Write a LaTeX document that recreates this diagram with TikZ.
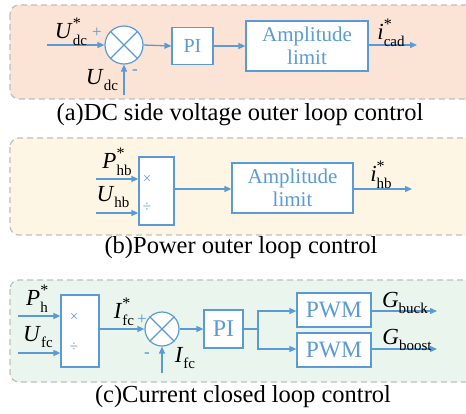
\documentclass[tikz,border=0pt]{standalone}
\usepackage{fontspec}
\setmainfont{Liberation Serif}
\usetikzlibrary{arrows.meta}
\definecolor{lblue}{HTML}{5B9BD5}
\definecolor{bgA}{HTML}{FBE3D6}
\definecolor{bgB}{HTML}{FEF6E4}
\definecolor{bgC}{HTML}{EAF5EE}
\definecolor{dgray}{HTML}{BFBFBF}
\newcommand{\vlab}[3]{\textit{#1}\makebox[0pt][l]{\raisebox{0.45em}{\fontsize{16}{16}\selectfont #3}}\raisebox{-0.3em}{\fontsize{15}{15}\selectfont #2}}
\tikzset{
  panel/.style={draw=dgray, dashed, dash pattern=on 6pt off 4pt, line width=1.2pt, rounded corners=9pt},
  blk/.style={draw=lblue, line width=1.2pt, fill=white, text=lblue, inner sep=0pt, align=center},
  sumc/.style={circle, draw=lblue, line width=1.2pt, fill=white, minimum size=#1, inner sep=0pt},
  sig/.style={draw=lblue, line width=1.3pt, -{Triangle[length=7pt,width=6pt]}},
  wire/.style={draw=lblue, line width=1.3pt},
  lab/.style={font=\fontsize{23}{23}\selectfont, inner sep=0pt},
  captxt/.style={font=\fontsize{24.5}{24.5}\selectfont, inner sep=0pt},
  sgn/.style={text=lblue, font=\fontsize{17}{17}\selectfont, inner sep=0pt},
  ops/.style={text=lblue, font=\fontsize{15}{15}\selectfont, inner sep=0pt}
}
\begin{document}
\begin{tikzpicture}[x=1pt,y=-1pt]
\useasboundingbox (0,0) rectangle (466,413);
\begin{scope}
\clip (0,0) rectangle (466,413);
% ---------- panel (a)
\path[panel, fill=bgA] (10,5) rectangle (490,99);
\node[sumc=38pt] (sa) at (124,45) {};
\draw[lblue, line width=1.1pt] (sa.north west) -- (sa.south east) (sa.north east) -- (sa.south west);
\node[blk, minimum width=41pt, minimum height=37pt, font=\fontsize{20}{20}\selectfont] (pa) at (192.5,46) {PI};
\node[blk, minimum width=122pt, minimum height=50pt, font=\fontsize{21}{23}\selectfont] (aa) at (307,46) {Amplitude\\limit};
\coordinate (ina) at (47,45);
\coordinate (bota) at (124,95);
\coordinate (outa) at (417,45);
\path[sig] (ina) -- (sa.west);
\path[sig] (bota) -- (sa.south);
\path[sig] (sa.east) -- (pa.west);
\path[sig] (pa.east) -- (aa.west |- pa.east);
\path[sig] (aa.east |- outa) -- (outa);
\node[lab] (la1) at (71,32) {\vlab{U}{dc}{*}};
\node[sgn] (pa1) at (97,33) {+};
\node[lab] (la2) at (102,80) {\vlab{U}{dc}{}};
\node[sgn] (ma1) at (135,72) {\textbf{-}};
\node[lab] (la3) at (391,33) {\vlab{i}{cad}{*}};
% ---------- panel (b)
\path[panel, fill=bgB] (10,138) rectangle (490,235);
\node[blk, minimum width=35pt, minimum height=68pt] (mb) at (156.5,191) {};
\node[ops] (xb) at (147,179) {×};
\node[ops] (db) at (147,207) {÷};
\node[blk, minimum width=121pt, minimum height=50pt, font=\fontsize{21}{23}\selectfont] (ab) at (292.5,188) {Amplitude\\limit};
\coordinate (inb1) at (96,179);
\coordinate (inb2) at (96,213);
\coordinate (outb) at (412,189);
\path[sig] (inb1) -- (mb.west |- inb1);
\path[sig] (inb2) -- (mb.west |- inb2);
\path[sig] (mb.east |- outb) -- (ab.west |- outb);
\path[sig] (ab.east |- outb) -- (outb);
\node[lab] (lb1) at (117,162) {\vlab{P}{hb}{*}};
\node[lab] (lb2) at (113,197) {\vlab{U}{hb}{}};
\node[lab] (lb3) at (381,175) {\vlab{i}{hb}{*}};
% ---------- panel (c)
\path[panel, fill=bgC] (10,280) rectangle (490,382);
\node[blk, minimum width=38pt, minimum height=72pt] (mc) at (80,331) {};
\node[ops] (xc) at (74,317) {×};
\node[ops] (dc) at (74,347) {÷};
\node[sumc=34pt] (sc) at (162,329) {};
\draw[lblue, line width=1.1pt] (sc.north west) -- (sc.south east) (sc.north east) -- (sc.south west);
\node[blk, minimum width=39pt, minimum height=38pt, font=\fontsize{24}{24}\selectfont] (pc) at (223.5,329) {PI};
\node[blk, minimum width=74pt, minimum height=34pt, font=\fontsize{23.5}{24}\selectfont] (pw1) at (334,310) {PWM};
\node[blk, minimum width=74pt, minimum height=34pt, font=\fontsize{23.5}{24}\selectfont] (pw2) at (334,350) {PWM};
\coordinate (inc1) at (18,316);
\coordinate (inc2) at (18,353);
\coordinate (botc) at (162,373);
\coordinate (br) at (258,329);
\coordinate (outc1) at (437,311);
\coordinate (outc2) at (437,349);
\path[sig] (inc1) -- (mc.west |- inc1);
\path[sig] (inc2) -- (mc.west |- inc2);
\path[sig] (mc.east |- sc.west) -- (sc.west);
\path[sig] (botc) -- (sc.south);
\path[sig] (sc.east) -- (pc.west);
\path[wire] (pc.east) -- (br);
\path[sig] (br) |- (pw1.west |- outc1);
\path[sig] (br) |- (pw2.west |- outc2);
\path[sig] (pw1.east |- outc1) -- (outc1);
\path[sig] (pw2.east |- outc2) -- (outc2);
\node[lab] (lc1) at (37,299) {\vlab{P}{h}{*}};
\node[lab] (lc2) at (38,337) {\vlab{U}{fc}{}};
\node[lab] (lc3) at (124,312) {\vlab{I}{fc}{*}};
\node[sgn] (pc1) at (142,320) {+};
\node[sgn] (mc1) at (147,355) {\textbf{-}};
\node[lab] (lc4) at (185,358) {\vlab{I}{fc}{}};
\node[lab] (lc5) at (405,303) {\vlab{G}{buck}{}};
\node[lab] (lc6) at (407,340) {\vlab{G}{boost}{}};
% ---------- captions
\node[captxt] (ca) at (240,115) {(a)DC side voltage outer loop control};
\node[captxt] (cb) at (241,248) {(b)Power outer loop control};
\node[captxt] (cc) at (243,397) {(c)Current closed loop control};
\end{scope}
\end{tikzpicture}
\end{document}
